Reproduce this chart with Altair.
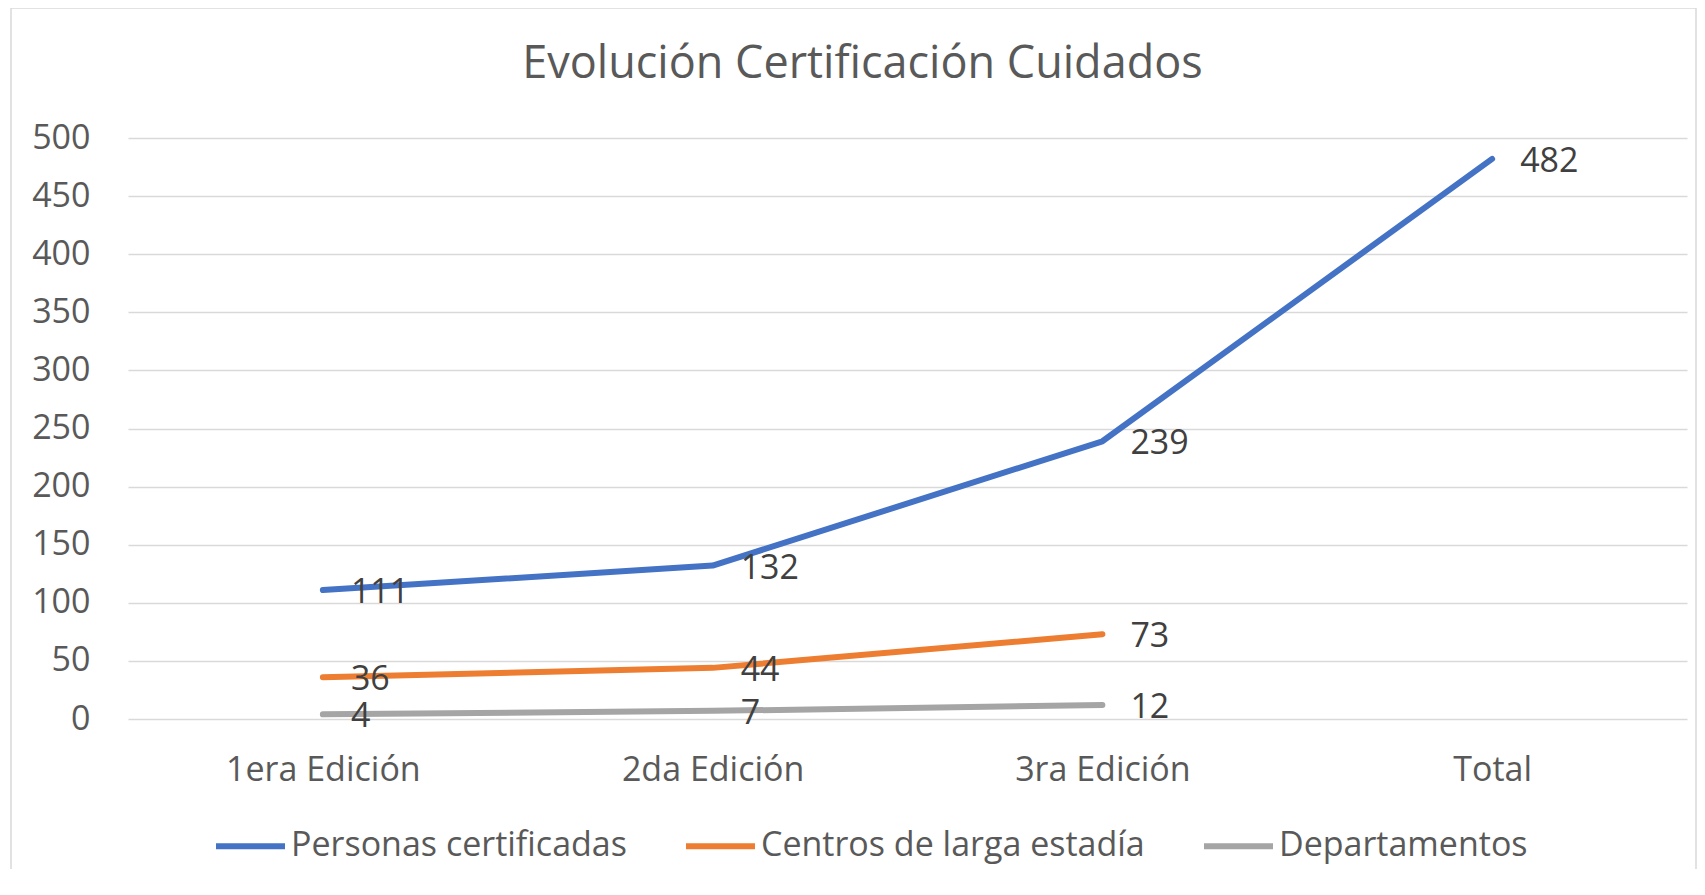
import altair as alt
import pandas as pd

# ---- data ----
categories = ["1era Edición", "2da Edición", "3ra Edición", "Total"]
series_names = ["Personas certificadas", "Centros de larga estadía", "Departamentos"]
personas = [111, 132, 239, 482]
centros = [36, 44, 73]
departamentos = [4, 7, 12]
series_colors = ["#4472C4", "#ED7D31", "#A5A5A5"]
y_ticks = [0, 50, 100, 150, 200, 250, 300, 350, 400, 450, 500]
title_text = "Evolución Certificación Cuidados"

rows = []
for name, vals in zip(series_names, [personas, centros, departamentos]):
    for i, (cat, v) in enumerate(zip(categories, vals)):
        rows.append({"Edición": cat, "Serie": name, "Valor": v, "idx": i})
df = pd.DataFrame(rows)

FONT = "Open Sans"
W, H = 1559, 581
AXIS_COLOR = "#595959"

x_enc = alt.X(
    "Edición:N",
    sort=categories,
    scale=alt.Scale(type="point", padding=0.5),
    axis=alt.Axis(
        title=None, labelAngle=0, domain=False, ticks=False, grid=False,
        labelPadding=34, labelFontSize=34, labelFont=FONT, labelColor=AXIS_COLOR,
        labelLimit=600,
    ),
)
y_enc = alt.Y(
    "Valor:Q",
    scale=alt.Scale(domain=[0, 500], nice=False, zero=True),
    axis=alt.Axis(
        title=None, values=y_ticks, domain=False, ticks=False, grid=True,
        gridColor="#d9d9d9", gridWidth=1.5, labelPadding=38,
        labelFontSize=34, labelFont=FONT, labelColor=AXIS_COLOR,
    ),
)
color_enc = alt.Color(
    "Serie:N",
    sort=series_names,
    scale=alt.Scale(domain=series_names, range=series_colors),
    legend=alt.Legend(
        title=None, orient="none", direction="horizontal",
        legendX=85, legendY=670.5, symbolType="stroke", symbolSize=4761,
        symbolStrokeWidth=6, labelFontSize=34, labelFont=FONT,
        labelColor=AXIS_COLOR, labelOffset=3, columnPadding=47,
        labelLimit=1000, padding=0,
    ),
)

frame = alt.Chart(pd.DataFrame({"f": [0]})).mark_rect(
    filled=False, color="#d9d9d9", strokeWidth=1.5
).encode(
    x=alt.value(-117), x2=alt.value(1568), y=alt.value(-130), y2=alt.value(800)
)

lines = alt.Chart(df).mark_line(
    strokeWidth=6, strokeCap="round", strokeJoin="round"
).encode(x=x_enc, y=y_enc, color=color_enc, order=alt.Order("idx:Q"))

labels = alt.Chart(df).mark_text(
    align="left", baseline="middle", dx=28, dy=3, fontSize=34, font=FONT, color="#404040"
).encode(x=x_enc, y=y_enc, text=alt.Text("Valor:Q"))

chart = alt.layer(frame, lines, labels).properties(
    width=W,
    height=H,
    title=alt.TitleParams(
        title_text, font=FONT, fontSize=45, fontWeight="normal", color=AXIS_COLOR,
        anchor="middle", frame="group", dx=-45, baseline="alphabetic", offset=-116,
    ),
    autosize=alt.AutoSizeParams(type="none"),
    padding={"left": 120, "top": 130, "right": 10, "bottom": 150},
    background="white",
).configure_view(strokeWidth=0)

chart.save("out.html", embed_options={"renderer": "svg", "actions": False})
